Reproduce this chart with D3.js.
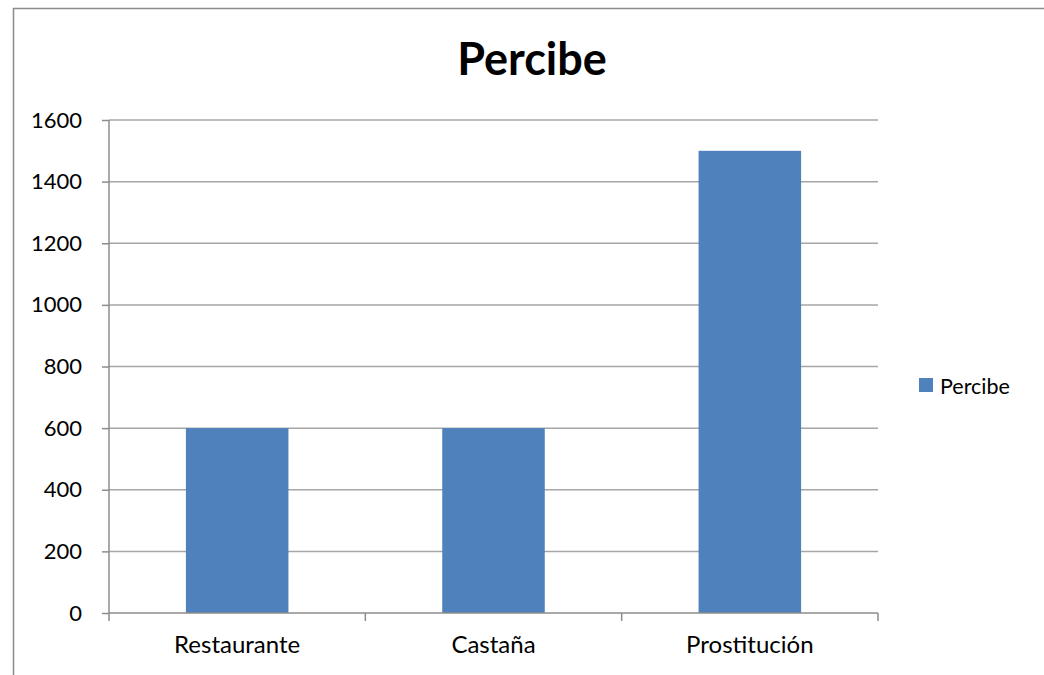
<!DOCTYPE html>
<html>
<head>
<meta charset="utf-8">
<script src="https://cdn.jsdelivr.net/npm/d3@7"></script>
<style>
  body { margin: 0; background: #fff; }
  svg { display: block; font-family: Lato, "Open Sans", sans-serif; }
</style>
</head>
<body>
<div id="chart"></div>
<script>
const categories = ["Restaurante", "Castaña", "Prostitución"];
const values = [600, 600, 1500];
const seriesName = "Percibe";
const yTicks = [0, 200, 400, 600, 800, 1000, 1200, 1400, 1600];

const width = 1044, height = 675;
const marginLeft = 109, marginRight = 166, marginTop = 120, marginBottom = 62;

const svg = d3.select("#chart").append("svg")
    .attr("width", width)
    .attr("height", height);

// chart border (runs off the right and bottom edge)
svg.append("rect")
    .attr("x", 13.5).attr("y", 8.5)
    .attr("width", width + 20).attr("height", height + 20)
    .attr("fill", "none")
    .attr("stroke", "#8c8c8c")
    .attr("stroke-width", 1.5);

const x = d3.scaleBand()
    .domain(categories)
    .range([marginLeft, width - marginRight])
    .paddingInner(0.6)
    .paddingOuter(0.3);

const xCat = d3.scaleBand()
    .domain(categories)
    .range([marginLeft, width - marginRight]);

const y = d3.scaleLinear()
    .domain([0, 1600])
    .range([height - marginBottom, marginTop]);

// gridlines
svg.append("g")
    .attr("stroke", "#a6a6a6")
    .attr("stroke-width", 1.5)
  .selectAll("line")
  .data(yTicks.filter(d => d > 0))
  .join("line")
    .attr("x1", marginLeft)
    .attr("x2", width - marginRight)
    .attr("y1", d => y(d))
    .attr("y2", d => y(d));

// bars
svg.append("g")
    .attr("fill", "#4f81bd")
  .selectAll("rect")
  .data(values)
  .join("rect")
    .attr("x", (d, i) => x(categories[i]))
    .attr("y", d => y(d))
    .attr("width", x.bandwidth())
    .attr("height", d => y(0) - y(d));

// y axis
svg.append("g")
    .attr("transform", `translate(${marginLeft},0)`)
    .call(d3.axisLeft(y).tickValues(yTicks).tickFormat(d3.format("d")).tickSize(7).tickPadding(20))
    .call(g => g.selectAll("line, path").attr("stroke", "#8c8c8c").attr("stroke-width", 1.5))
    .call(g => g.select(".domain").attr("d", `M0,${marginTop}V${height - marginBottom}`))
    .call(g => g.selectAll("text").attr("font-size", 22).attr("fill", "#000")
        .attr("font-family", "Lato, 'Open Sans', sans-serif"));

// x axis
const xAxisG = svg.append("g")
    .attr("transform", `translate(0,${height - marginBottom})`);
xAxisG.append("line")
    .attr("x1", marginLeft).attr("x2", width - marginRight)
    .attr("stroke", "#8c8c8c").attr("stroke-width", 1.5);
xAxisG.selectAll(".cat-tick")
  .data([...categories.map(c => xCat(c)), width - marginRight])
  .join("line")
    .attr("class", "cat-tick")
    .attr("x1", d => d).attr("x2", d => d)
    .attr("y1", 0).attr("y2", 8)
    .attr("stroke", "#8c8c8c").attr("stroke-width", 1.5);
xAxisG.selectAll("text")
  .data(categories)
  .join("text")
    .attr("x", d => xCat(d) + xCat.bandwidth() / 2)
    .attr("y", 32)
    .attr("dy", "0.35em")
    .attr("text-anchor", "middle")
    .attr("font-size", 24)
    .text(d => d);

// title
svg.append("text")
    .attr("x", 532)
    .attr("y", 75)
    .attr("text-anchor", "middle")
    .attr("font-size", 45)
    .attr("font-weight", "bold")
    .text(seriesName);

// legend
const legend = svg.append("g").attr("transform", "translate(919,378)");
legend.append("rect")
    .attr("width", 14).attr("height", 14)
    .attr("fill", "#4f81bd");
legend.append("text")
    .attr("x", 21).attr("y", 8)
    .attr("dy", "0.35em")
    .attr("font-size", 21.5)
    .text(seriesName);
</script>
</body>
</html>
